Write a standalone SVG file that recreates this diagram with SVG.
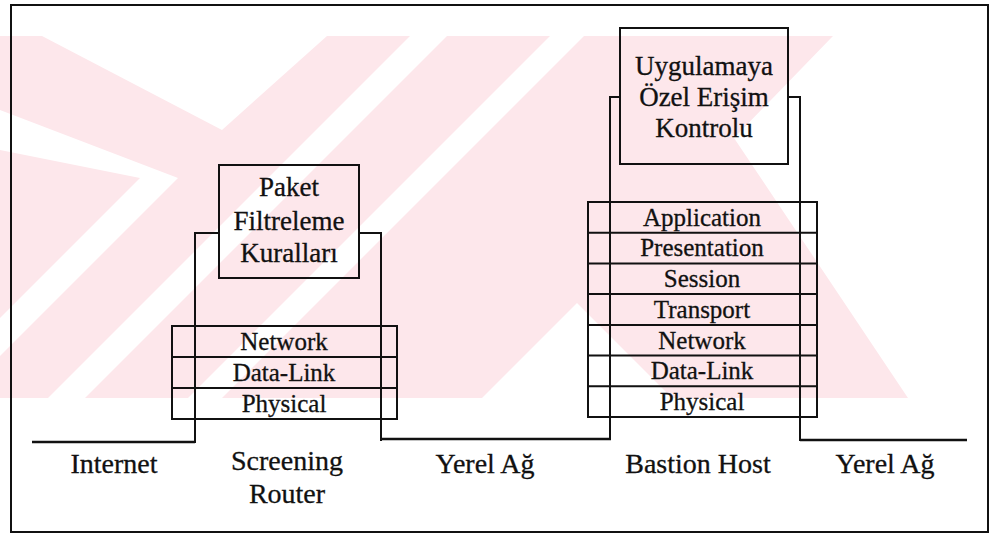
<svg xmlns="http://www.w3.org/2000/svg" width="990" height="535" viewBox="0 0 990 535">
  <style>
    .ln{fill:none;stroke:#111;stroke-width:2;stroke-linecap:square}
    .net{fill:none;stroke:#111;stroke-width:2.5}
    text{font-family:'Liberation Serif','DejaVu Serif','Times New Roman',serif;fill:#111;stroke:#111;stroke-width:0.3;text-anchor:middle}
    .lay{font-size:25px}
    .bx{font-size:27px}
    .lbl{font-size:28px}
    .wm{fill:#fde7eb}
    .cut{fill:#fff}
  </style>
  <defs>
    <clipPath id="band"><rect x="0" y="36" width="990" height="362"/></clipPath>
  </defs>

  <rect width="990" height="535" fill="#fff"/>

  <!-- faint background emblem -->
  <g id="emblem" clip-path="url(#band)">
    <polygon class="wm" points="0,36 833,36 734,138 908,398 0,398"/>
    <polygon class="cut" points="42,36 222,130 327,36"/>
    <polygon class="cut" points="0,110 178,178 0,356 0,318 140,178 0,150"/>
    <polygon class="cut" points="410,36 447,36 85,398 48,398"/>
    <polygon class="cut" points="550,36 584,36 222,398 188,398"/>
    <polygon class="cut" points="577,303 672,398 482,398"/>
  </g>

  <!-- outer frame -->
  <rect x="11" y="5" width="977" height="527" fill="none" stroke="#111" stroke-width="2"/>

  <!-- network segments -->
  <g id="connectors">
    <path class="net" d="M32,442 H195"/>
    <path class="net" d="M381,439 H611"/>
    <path class="net" d="M800,440 H967"/>
  </g>

  <!-- screening router -->
  <g id="screening-router">
    <path class="ln" d="M195,442 V233 H219 M359,233 H381 V440"/>
    <rect class="ln" x="219" y="165" width="140" height="113"/>
    <text class="bx" x="289" y="196">Paket</text>
    <text class="bx" x="289" y="230">Filtreleme</text>
    <text class="bx" x="289" y="262">Kuralları</text>
    <rect class="ln" x="172" y="326" width="225" height="93"/>
    <path class="ln" d="M172,357 H397 M172,388 H397"/>
    <text class="lay" x="284" y="350">Network</text>
    <text class="lay" x="284" y="381">Data-Link</text>
    <text class="lay" x="284" y="412">Physical</text>
  </g>

  <!-- bastion host -->
  <g id="bastion-host">
    <path class="ln" d="M610,438 V97 H620 M788,97 H800 V440"/>
    <rect class="ln" x="620" y="28" width="168" height="136"/>
    <text class="bx" x="704" y="75">Uygulamaya</text>
    <text class="bx" x="704" y="106">Özel Erişim</text>
    <text class="bx" x="704" y="137">Kontrolu</text>
    <rect class="ln" x="588" y="202" width="229" height="215"/>
    <path class="ln" d="M588,232.7 H817 M588,263.4 H817 M588,294.1 H817 M588,324.9 H817 M588,355.6 H817 M588,386.3 H817"/>
    <text class="lay" x="702" y="225.7">Application</text>
    <text class="lay" x="702" y="256.4">Presentation</text>
    <text class="lay" x="702" y="287.1">Session</text>
    <text class="lay" x="702" y="317.9">Transport</text>
    <text class="lay" x="702" y="348.6">Network</text>
    <text class="lay" x="702" y="379.3">Data-Link</text>
    <text class="lay" x="702" y="410">Physical</text>
  </g>

  <!-- segment labels -->
  <g id="labels">
    <text class="lbl" x="114" y="473">Internet</text>
    <text class="lbl" x="287" y="470">Screening</text>
    <text class="lbl" x="287" y="503">Router</text>
    <text class="lbl" x="485" y="473">Yerel Ağ</text>
    <text class="lbl" x="698" y="473">Bastion Host</text>
    <text class="lbl" x="885" y="473">Yerel Ağ</text>
  </g>
</svg>
